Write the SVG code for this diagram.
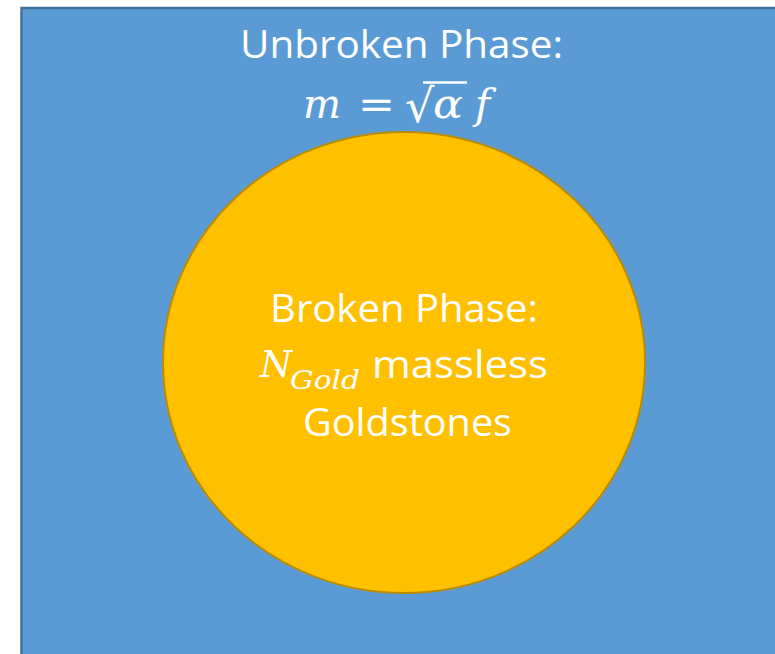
<svg xmlns="http://www.w3.org/2000/svg" width="775" height="654" viewBox="0 0 775 654">
<style>
.lbl{font-family:"Open Sans","Liberation Sans",sans-serif;font-size:38px;fill:#ffffff;}
.math{font-family:"DejaVu Serif","Liberation Serif",serif;font-style:italic;fill:#ffffff;}
.mrm{font-family:"DejaVu Serif","Liberation Serif",serif;fill:#ffffff;}
</style>
<rect x="0" y="0" width="775" height="654" fill="#ffffff"/>
<g id="unbroken">
<rect x="21.5" y="8" width="800" height="700" fill="#5B9BD5" stroke="#41719C" stroke-width="2.5"/>
<text class="lbl" x="240" y="58" textLength="323" lengthAdjust="spacingAndGlyphs">Unbroken Phase:</text>
<text class="math" x="303" y="118" font-size="41" textLength="38" lengthAdjust="spacingAndGlyphs">m</text>
<text class="mrm" x="358" y="118" font-size="41" textLength="37" lengthAdjust="spacingAndGlyphs">=</text>
<text class="mrm" x="405" y="122" font-size="46">√</text>
<line x1="423" y1="82.5" x2="467" y2="82.5" stroke="#ffffff" stroke-width="2.5"/>
<text class="math" x="433" y="118" font-size="41" textLength="30" lengthAdjust="spacingAndGlyphs">α</text>
<text class="math" x="475" y="118" font-size="41">f</text>
</g>
<g id="broken">
<ellipse cx="404" cy="362.5" rx="241" ry="230.5" fill="#FFC000" stroke="#BC8C00" stroke-width="2"/>
<text class="lbl" x="270" y="322" textLength="268" lengthAdjust="spacingAndGlyphs">Broken Phase:</text>
<text class="math" x="260" y="377" font-size="37" textLength="32" lengthAdjust="spacingAndGlyphs">N</text>
<text class="math" x="290" y="389" font-size="26" textLength="70" lengthAdjust="spacingAndGlyphs">Gold</text>
<text class="lbl" x="372" y="378" textLength="176" lengthAdjust="spacingAndGlyphs">massless</text>
<text class="lbl" x="303" y="436" textLength="209" lengthAdjust="spacingAndGlyphs">Goldstones</text>
</g>
</svg>
